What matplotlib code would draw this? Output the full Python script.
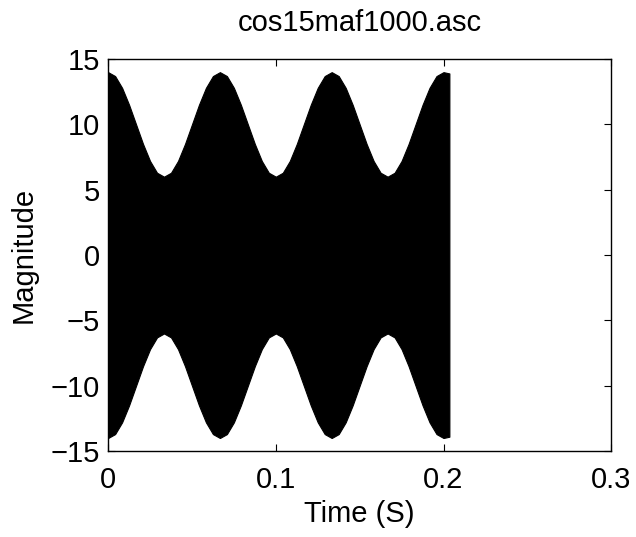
import numpy as np
import matplotlib.pyplot as plt

plt.rcParams['font.family'] = ['Liberation Sans', 'DejaVu Sans']

# upper envelope of the recorded signal, sampled every 1/240 s
t = np.arange(49) / 240.0
env = [14.0, 13.7, 12.8, 11.5, 10.0, 8.5, 7.2, 6.3,
       6.0, 6.3, 7.2, 8.5, 10.0, 11.5, 12.8, 13.7,
       14.0, 13.7, 12.8, 11.5, 10.0, 8.5, 7.2, 6.3,
       6.0, 6.3, 7.2, 8.5, 10.0, 11.5, 12.8, 13.7,
       14.0, 13.7, 12.8, 11.5, 10.0, 8.5, 7.2, 6.3,
       6.0, 6.3, 7.2, 8.5, 10.0, 11.5, 12.8, 13.7,
       14.0]
t_end = 0.2035
env_end = 13.9

t = np.append(t, t_end)
env = np.append(env, env_end)

fig = plt.figure(figsize=(6.36, 5.37), dpi=100)
ax = fig.add_axes([0.170, 0.160, 0.791, 0.730])

ax.fill_between(t, -env, env, color='black', linewidth=0.8)

ax.set_xlim(0, 0.3)
ax.set_ylim(-15, 15)
ax.set_xticks([0, 0.1, 0.2, 0.3])
ax.set_xticklabels(['0', '0.1', '0.2', '0.3'])
ax.set_yticks([-15, -10, -5, 0, 5, 10, 15])
ax.tick_params(direction='in', top=True, right=True, length=5,
               labelsize=21)
ax.tick_params(axis='x', pad=11)
ax.tick_params(axis='y', pad=6)
for s in ax.spines.values():
    s.set_linewidth(1.0)

ax.set_title('cos15maf1000.asc', fontsize=21, pad=20)
ax.set_xlabel('Time (S)', fontsize=21, labelpad=4)
ax.set_ylabel('Magnitude', fontsize=21, labelpad=9)

fig.savefig('out.png', dpi=100)
